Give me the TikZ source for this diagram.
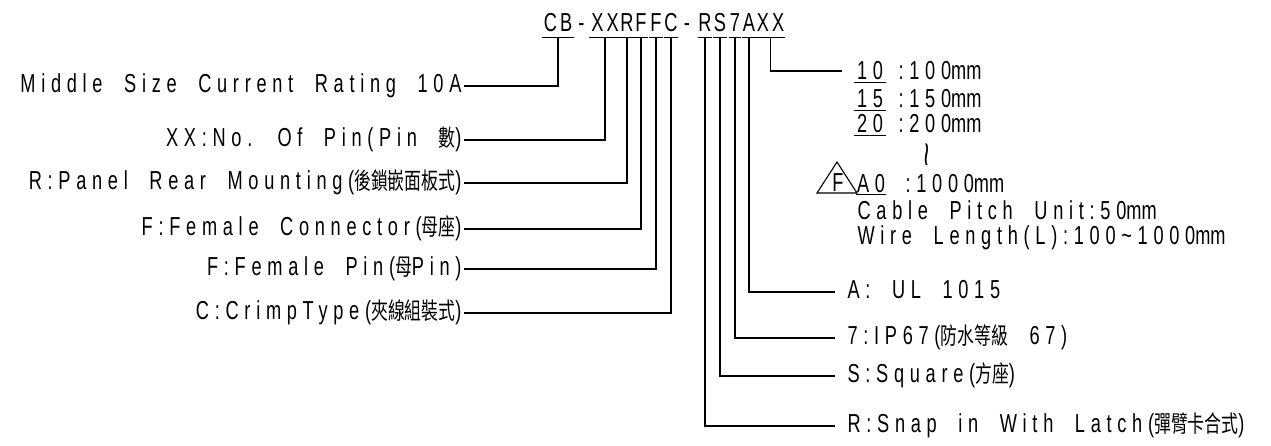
\documentclass[tikz,border=0pt]{standalone}
\usepackage{fontspec}
\setmainfont{Liberation Sans}[FakeStretch=0.7,LetterSpace=22,WordSpace=2]
\newfontfamily\tightfont{Liberation Sans}[FakeStretch=0.7]
\newfontfamily\codefont{Liberation Sans}[FakeStretch=0.7,LetterSpace=12]
\newfontfamily\cjk{Noto Sans CJK TC}[FakeStretch=0.72,Scale=0.9]
\newcommand{\bigsize}{\fontsize{26}{30}\selectfont}

\begin{document}
\begin{tikzpicture}[x=1pt, y=-1pt,
    line width=1.1pt,
    font=\bigsize,
    code/.style={font=\bigsize\codefont, anchor=base, inner xsep=0pt, inner ysep=5pt, text height=18pt, text depth=0pt},
    ulnum/.style={anchor=base, inner xsep=0pt, inner ysep=2pt, text height=18pt, text depth=0pt, minimum width=30pt},
    lbl/.style={anchor=east, inner xsep=2pt, inner ysep=0pt, text height=18pt, text depth=5pt},
    rlbl/.style={anchor=west, inner xsep=0pt, inner ysep=0pt, text height=18pt, text depth=5pt},
    txt/.style={anchor=base west, inner sep=0pt}
  ]
    \fill[white] (0,0) rectangle (1271,446);
    \useasboundingbox (0,0) rectangle (1271,446);

    % part number
    \node[code, minimum width=31pt] (cCB) at (558,32) {CB};
    \node[code] (dashA) at (581.5,32) {-};
    \node[code, minimum width=30pt] (cXX) at (605,32) {XX};
    \node[code, minimum width=10pt] (cR) at (627,32) {R};
    \node[code, minimum width=12pt] (cFa) at (641,32) {F};
    \node[code, minimum width=12pt] (cFb) at (656,32) {F};
    \node[code, minimum width=12pt] (cC) at (671,32) {C};
    \node[code] (dashB) at (687,32) {-};
    \node[code, minimum width=10pt] (cRb) at (705,32) {R};
    \node[code, minimum width=10pt] (cS) at (720,32) {S};
    \node[code, minimum width=10pt] (cSeven) at (735,32) {7};
    \node[code, minimum width=12pt] (cA) at (749,32) {A};
    \node[code, minimum width=25pt] (cXXb) at (770.5,32) {XX};
    \foreach \n in {cCB,cXX,cR,cFa,cFb,cC,cRb,cS,cSeven,cA,cXXb}
      \draw (\n.south west) -- (\n.south east);

    % left side
    \node[lbl] (lMid) at (464,86) {Middle Size Current Rating 10A};
    \node[lbl] (lPin) at (464,140) {XX:No. Of Pin(Pin {\cjk 數})};
    \node[lbl] (lPanel) at (464,183) {R:Panel Rear Mounting({\cjk 後鎖嵌面板式})};
    \node[lbl] (lConn) at (464,229) {F:Female Connector({\cjk 母座})};
    \node[lbl] (lFpin) at (464,269) {F:Female Pin({\cjk 母}Pin)};
    \node[lbl] (lCrimp) at (464,313) {C:CrimpType({\cjk 夾線組裝式})};
    \draw (lMid.east) -| (cCB.south);
    \draw (lPin.east) -| (cXX.south);
    \draw (lPanel.east) -| (cR.south);
    \draw (lConn.east) -| (cFa.south);
    \draw (lFpin.east) -| (cFb.south);
    \draw (lCrimp.east) -| (cC.south);

    % right side
    \node[rlbl] (rUL) at (847,292) {A: UL 1015};
    \node[rlbl] (rIP) at (847,338) {7:IP67({\cjk 防水等級} 67)};
    \node[rlbl] (rSq) at (847,376) {S:Square({\cjk 方座})};
    \node[rlbl] (rSnap) at (847,426) {R:Snap in With Latch({\cjk 彈臂卡合式})};
    \draw[shorten >=12pt] (cA.south) |- (rUL.west);
    \draw[shorten >=12pt] (cSeven.south) |- (rIP.west);
    \draw[shorten >=12pt] (cS.south) |- (rSq.west);
    \draw[shorten >=12pt] (cRb.south) |- (rSnap.west);

    % wire length table
    \node[ulnum] (n10) at (870,80) {10};
    \node[ulnum] (n15) at (870,108) {15};
    \node[ulnum] (n20) at (870,133) {20};
    \node[ulnum, inner ysep=1pt, minimum width=28pt] (nA0) at (871,193) {A0};
    \foreach \n in {n10,n15,n20,nA0}
      \draw (\n.south west) -- (\n.south east);
    \node[txt] (d10) at (898,80) {:100{\tightfont mm}};
    \node[txt] (d15) at (898,108) {:150{\tightfont mm}};
    \node[txt] (d20) at (898,133) {:200{\tightfont mm}};
    \node[rotate=90, inner sep=0pt] (dots) at (930,155) {\scalebox{2.4}[1]{\tightfont\textasciitilde}};
    \node[anchor=base, inner sep=0pt] (fmark) at (838,192) {\tightfont F};
    \draw (817,193) -- (837,162) -- (857,193) -- cycle;
    \node[txt] (dA0) at (905,193) {:1000{\tightfont mm}};
    \node[txt] (cable) at (857,220) {Cable Pitch Unit:50{\tightfont mm}};
    \node[txt] (wire) at (857,245) {Wire Length(L):100\textasciitilde1000{\tightfont mm}};
    \draw[shorten >=12pt] (cXXb.south) |- (n10.west);
  \end{tikzpicture}
\end{document}
